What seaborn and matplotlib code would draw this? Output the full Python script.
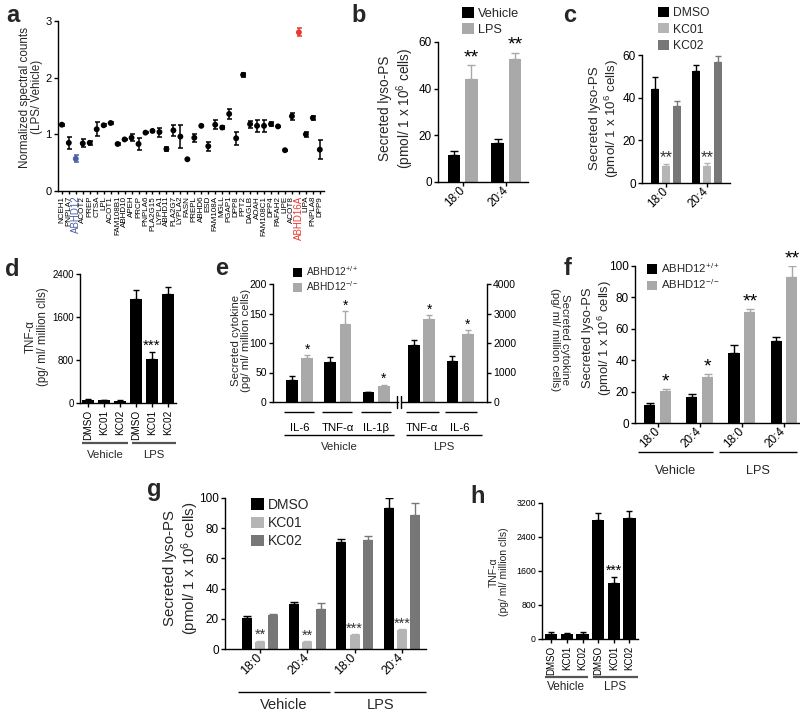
import matplotlib
matplotlib.use("Agg")
import matplotlib.pyplot as plt
import seaborn as sns
import pandas as pd
from matplotlib.patches import Patch
from matplotlib.lines import Line2D

# ----------------------------------------
# Data
# ----------------------------------------

# a: normalized spectral counts (LPS / vehicle)
genes = ["NCEH1", "PNPLA7", "ABHD12", "ACOT2", "PREP", "CTSA", "LPL", "ACOT1",
         "FAM108B1", "ABHD10", "APEH", "PRCP", "PNPLA6", "PLA2G15", "LYPLA1",
         "ABHD11", "PLA2G7", "LYPLA2", "FASN", "PREPL", "ABHD6", "ESD", "FAM108A",
         "MGLL", "PGAP1", "DPP8", "PPT2", "DAGLB", "AOAH", "FAM108C1", "DPP4",
         "PAFAH2", "LIPE", "ACOT8", "ABHD16A", "LIPA", "PNPLA8", "DPP9"]
ratio = [1.17, 0.85, 0.57, 0.84, 0.85, 1.09, 1.16, 1.20, 0.83, 0.91, 0.94, 0.83,
         1.03, 1.06, 1.04, 0.74, 1.07, 0.96, 0.56, 0.94, 1.15, 0.79, 1.17, 1.12,
         1.36, 0.93, 2.05, 1.18, 1.15, 1.15, 1.18, 1.14, 0.72, 1.32, 2.80, 1.00,
         1.29, 0.73]
ratio_err = [0.02, 0.10, 0.06, 0.07, 0.03, 0.12, 0.02, 0.02, 0.01, 0.01, 0.06, 0.10,
             0.01, 0.01, 0.08, 0.03, 0.10, 0.20, 0.01, 0.07, 0.01, 0.08, 0.08, 0.03,
             0.09, 0.12, 0.03, 0.06, 0.10, 0.10, 0.03, 0.01, 0.01, 0.06, 0.07, 0.04,
             0.03, 0.17]

# b: lyso-PS, vehicle vs LPS
lipids = ["18:0", "20:4"]
b_vehicle, b_vehicle_err = [11.7, 16.7], [1.6, 1.9]
b_lps, b_lps_err = [44.3, 52.9], [5.7, 2.6]

# c: lyso-PS with inhibitors
c_dmso, c_dmso_err = [44.0, 52.7], [5.5, 2.5]
c_kc01, c_kc01_err = [8.1, 8.2], [1.0, 1.0]
c_kc02, c_kc02_err = [36.0, 56.9], [2.5, 2.8]

# d: TNF-a with inhibitors
treatments = ["DMSO", "KC01", "KC02"]
d_vehicle, d_vehicle_err = [62, 50, 44], [10, 8, 8]
d_lps, d_lps_err = [1934, 821, 2021], [168, 130, 130]

# e: cytokines, ABHD12 +/+ vs -/-
e_veh_cyto = ["IL-6", "TNF-α", "IL-1β"]
e_veh_wt, e_veh_wt_err = [36.7, 68.4, 16.4], [6.8, 8.0, 1.0]
e_veh_ko, e_veh_ko_err = [74.6, 132.8, 26.6], [4.5, 21.0, 2.8]
e_lps_cyto = ["TNF-α", "IL-6"]
e_lps_wt, e_lps_wt_err = [1932, 1390], [158, 158]
e_lps_ko, e_lps_ko_err = [2814, 2294], [136, 136]

# f: lyso-PS, ABHD12 +/+ vs -/-
conditions = ["Vehicle 18:0", "Vehicle 20:4", "LPS 18:0", "LPS 20:4"]
f_wt, f_wt_err = [11.5, 16.8, 44.3, 52.3], [1.5, 1.5, 5.3, 2.6]
f_ko, f_ko_err = [20.2, 29.6, 70.6, 93.2], [1.5, 1.5, 1.7, 6.8]

# g: lyso-PS with inhibitors, vehicle / LPS
g_dmso, g_dmso_err = [20.3, 29.6, 70.6, 93.2], [1.8, 1.5, 2.0, 6.6]
g_kc01, g_kc01_err = [4.9, 4.6, 9.0, 12.8], [0.6, 0.6, 1.0, 0.5]
g_kc02, g_kc02_err = [22.3, 26.7, 72.4, 89.0], [0.7, 3.8, 2.6, 7.5]

# h: TNF-a with inhibitors
h_vehicle, h_vehicle_err = [126, 118, 126], [30, 30, 50]
h_lps, h_lps_err = [2806, 1324, 2845], [158, 142, 165]

BLACK, LIGHT, DARK = "#000000", "#a9a9a9", "#777777"
KC01_C = "#b5b5b5"
BLUE, RED = "#4a5fa8", "#e8392f"

# ----------------------------------------
# Style
# ----------------------------------------
sns.set_theme(style="ticks")
plt.rcParams["font.family"] = ["Liberation Sans", "DejaVu Sans"]
plt.rcParams["mathtext.default"] = "regular"
plt.rcParams["axes.linewidth"] = 1.0
plt.rcParams["xtick.major.width"] = 1.0
plt.rcParams["ytick.major.width"] = 1.0
plt.rcParams["xtick.major.size"] = 3
plt.rcParams["ytick.major.size"] = 3
plt.rcParams["xtick.major.pad"] = 2
plt.rcParams["ytick.major.pad"] = 1.5
plt.rcParams["axes.edgecolor"] = "black"
plt.rcParams["xtick.color"] = "black"
plt.rcParams["ytick.color"] = "black"

W, H = 800, 715
fig = plt.figure(figsize=(W / 100, H / 100), dpi=100)
BOX = {}


def make_ax(x0, y0, x1, y1):
    ax = fig.add_axes([x0 / W, 1 - y1 / H, (x1 - x0) / W, (y1 - y0) / H])
    BOX[ax] = (x0, y0, x1, y1)
    return ax


def ftext(x, y, s, **kw):
    fig.text(x / W, 1 - y / H, s, **kw)


def ylab(x, y, s, fs, rot=90, ls=1.05):
    ftext(x, y, s, rotation=rot, ha="center", va="center", fontsize=fs,
          multialignment="center", linespacing=ls)


def frame(cats, series):
    rows = []
    for grp, (vals, errs, sigs) in series.items():
        for c, v, e, s in zip(cats, vals, errs, sigs):
            rows.append({"cat": c, "grp": grp, "val": v, "err": e, "sig": s})
    return pd.DataFrame(rows)


def draw_bars(ax, df, palette, width, gap, capsize, star_fs, star_color="black"):
    cats = list(dict.fromkeys(df["cat"]))
    grps = list(dict.fromkeys(df["grp"]))
    sns.barplot(data=df, x="cat", y="val", hue="grp", order=cats, hue_order=grps,
                palette=palette, width=width, gap=gap, errorbar=None,
                saturation=1, linewidth=0, legend=False, ax=ax)
    slots = {}
    for p in ax.patches:
        if p.get_width() <= 0:
            continue
        cx = p.get_x() + p.get_width() / 2
        slots.setdefault(int(round(cx)), []).append(p)
    for i, ps in slots.items():
        for j, p in enumerate(sorted(ps, key=lambda q: q.get_x())):
            row = df[(df["cat"] == cats[i]) & (df["grp"] == grps[j])].iloc[0]
            cx = p.get_x() + p.get_width() / 2
            ax.errorbar(cx, row["val"], yerr=[[0], [row["err"]]], fmt="none",
                        ecolor=p.get_facecolor(), elinewidth=1, capsize=capsize,
                        capthick=1)
            if row["sig"]:
                ax.annotate(row["sig"], (cx, row["val"] + row["err"]),
                            xytext=(0, -1), textcoords="offset points",
                            ha="center", va="bottom", fontsize=star_fs,
                            color=star_color)
    ax.set_xlabel("")
    ax.set_ylabel("")
    sns.despine(ax=ax)


def bracket(ax, x0, x1, ypx, label=None, ylab=None, fs=7, lw=1.0, color="black"):
    bx0, by0, bx1, by1 = BOX[ax]
    ya = (by1 - ypx) / (by1 - by0)
    ax.plot([x0, x1], [ya, ya], transform=ax.get_xaxis_transform(),
            clip_on=False, color=color, lw=lw, solid_capstyle="butt")
    if label:
        yl = (by1 - ylab) / (by1 - by0)
        ax.text((x0 + x1) / 2, yl, label, transform=ax.get_xaxis_transform(),
                ha="center", va="center", fontsize=fs)


def square_legend(ax, labels, colors, x, y, fs, spacing):
    handles = [Patch(facecolor=c, edgecolor="none", label=l) for l, c in zip(labels, colors)]
    ax.legend(handles=handles, loc="upper left", bbox_to_anchor=(x / W, 1 - y / H),
              bbox_transform=fig.transFigure, frameon=False, fontsize=fs,
              handlelength=0.9, handleheight=0.9, handletextpad=0.35,
              labelspacing=spacing, borderpad=0, borderaxespad=0)


def rot45(ax, fs):
    for lbl in ax.get_xticklabels():
        lbl.set_rotation(45)
        lbl.set_ha("right")
        lbl.set_va("center")
        lbl.set_rotation_mode("anchor")
        lbl.set_fontsize(fs)


# ----------------------------------------
# a
# ----------------------------------------
ax = make_ax(58, 21, 324, 191)
kind = ["ABHD12" if g == "ABHD12" else "ABHD16A" if g == "ABHD16A" else "other" for g in genes]
a_df = pd.DataFrame({"gene": genes, "ratio": ratio, "err": ratio_err, "kind": kind})
a_pal = {"other": BLACK, "ABHD12": BLUE, "ABHD16A": RED}
sns.scatterplot(data=a_df, x="gene", y="ratio", hue="kind", palette=a_pal, s=18,
                edgecolor="none", legend=False, ax=ax, zorder=3)
for k, sub in a_df.groupby("kind"):
    ax.errorbar(sub["gene"], sub["ratio"], yerr=sub["err"], fmt="none",
                ecolor=a_pal[k], elinewidth=1.1, capsize=1.8, capthick=1.1)
ax.set_ylim(0, 3)
ax.set_yticks([0, 1, 2, 3])
ax.set_xlim(-0.55, 37.6)
ax.tick_params(axis="y", labelsize=8)
ax.tick_params(axis="x", labelsize=5.8, rotation=90, length=2.5, pad=1)
for lbl in ax.get_xticklabels():
    if lbl.get_text() in a_pal:
        lbl.set_color(a_pal[lbl.get_text()])
        lbl.set_fontsize(7)
ax.set_xlabel("")
ax.set_ylabel("")
sns.despine(ax=ax)
ylab(31, 97, "Normalized spectral counts\n(LPS/ Vehicle)", 8.4, ls=1.1)

# ----------------------------------------
# b
# ----------------------------------------
ax = make_ax(438, 42, 528, 182)
df = frame(lipids, {"Vehicle": (b_vehicle, b_vehicle_err, ["", ""]),
                    "LPS": (b_lps, b_lps_err, ["**", "**"])})
draw_bars(ax, df, [BLACK, LIGHT], 0.8, 0.3, 3, 14)
ax.set_ylim(0, 60)
ax.set_yticks([0, 20, 40, 60])
ax.set_xlim(-0.57, 1.5)
ax.tick_params(axis="y", labelsize=8.5)
rot45(ax, 8.5)
square_legend(ax, ["Vehicle", "LPS"], [BLACK, LIGHT], 462, 7, 9.2, 0.25)
ylab(397, 108, "Secreted lyso-PS\n(pmol/ 1 x 10$^6$ cells)", 9.8, ls=1.15)

# ----------------------------------------
# c
# ----------------------------------------
ax = make_ax(642, 55, 730, 183)
df = frame(lipids, {"DMSO": (c_dmso, c_dmso_err, ["", ""]),
                    "KC01": (c_kc01, c_kc01_err, ["**", "**"]),
                    "KC02": (c_kc02, c_kc02_err, ["", ""])})
draw_bars(ax, df, [BLACK, KC01_C, DARK], 0.8, 0.28, 2.5, 12, "#333333")
ax.set_ylim(0, 60)
ax.set_yticks([0, 20, 40, 60])
ax.set_xlim(-0.59, 1.57)
ax.tick_params(axis="y", labelsize=8.5)
rot45(ax, 8.5)
square_legend(ax, ["DMSO", "KC01", "KC02"], [BLACK, KC01_C, DARK], 658, 7, 8.7, 0.35)
ylab(605, 118, "Secreted lyso-PS\n(pmol/ 1 x 10$^6$ cells)", 9.6, ls=1.15)

# ----------------------------------------
# d
# ----------------------------------------
ax = make_ax(80, 274, 176, 403)
d_cats = ["Vehicle " + t for t in treatments] + ["LPS " + t for t in treatments]
df = frame(d_cats, {"all": (d_vehicle + d_lps, d_vehicle_err + d_lps_err,
                            ["", "", "", "", "***", ""])})
draw_bars(ax, df, [BLACK], 0.7, 0, 2.5, 11)
ax.set_ylim(0, 2400)
ax.set_yticks([0, 800, 1600, 2400])
ax.set_xlim(-0.5, 5.5)
ax.set_xticks(range(6))
ax.set_xticklabels(treatments * 2, rotation=90, fontsize=7.2)
ax.tick_params(axis="y", labelsize=7)
bracket(ax, -0.375, 2.5, 443, "Vehicle", 455, fs=8.2, lw=1.6, color="#555555")
bracket(ax, 2.75, 5.5, 443, "LPS", 455, fs=8.2, lw=1.6, color="#555555")
ylab(37, 337, "TNF-α\n(pg/ ml/ million clls)", 8.3, ls=1.1)

# ----------------------------------------
# e
# ----------------------------------------
ax = make_ax(273, 284, 398, 402)
df = frame(e_veh_cyto, {"WT": (e_veh_wt, e_veh_wt_err, ["", "", ""]),
                        "KO": (e_veh_ko, e_veh_ko_err, ["*", "*", "*"])})
draw_bars(ax, df, [BLACK, LIGHT], 0.8, 0.24, 2.5, 10)
ax.set_ylim(0, 200)
ax.set_yticks([0, 50, 100, 150, 200])
ax.set_xlim(-0.69, 2.57)
ax.tick_params(axis="y", labelsize=7.5)
ax.tick_params(axis="x", labelsize=8.2, length=0, pad=15)
for i in range(3):
    bracket(ax, i - 0.4, i + 0.38, 412)
bracket(ax, -0.4, 2.47, 435, "Vehicle", 447, fs=8.2)
square_legend(ax, ["ABHD12$^{+/+}$", "ABHD12$^{-/-}$"], [BLACK, LIGHT], 293, 264, 7.3, 0.12)
ylab(241, 340, "Secreted cytokine\n(pg/ ml/ million cells)", 8.2, ls=1.0)

ax = make_ax(402, 284, 487, 402)
df = frame(e_lps_cyto, {"WT": (e_lps_wt, e_lps_wt_err, ["", ""]),
                        "KO": (e_lps_ko, e_lps_ko_err, ["*", "*"])})
draw_bars(ax, df, [BLACK, LIGHT], 0.8, 0.24, 2.5, 10)
sns.despine(ax=ax, left=True, right=False)
ax.yaxis.tick_right()
ax.set_ylim(0, 4000)
ax.set_yticks([0, 1000, 2000, 3000, 4000])
ax.set_xlim(-0.51, 1.7)
ax.tick_params(axis="y", labelsize=7.5)
ax.tick_params(axis="x", labelsize=8.2, length=0, pad=15)
for i in range(2):
    bracket(ax, i - 0.4, i + 0.45, 412)
bracket(ax, -0.4, 1.57, 435, "LPS", 447, fs=8.2)
for xb in (397, 401.5):
    fig.add_artist(Line2D([xb / W, xb / W], [1 - 396 / H, 1 - 408 / H],
                          transform=fig.transFigure, color="black", lw=1))
ylab(560, 340, "Secreted cytokine\n(pg/ ml/ million cells)", 8.2, rot=270, ls=1.0)

# ----------------------------------------
# f
# ----------------------------------------
ax = make_ax(635, 266, 800, 423)
df = frame(conditions, {"WT": (f_wt, f_wt_err, ["", "", "", ""]),
                        "KO": (f_ko, f_ko_err, ["*", "*", "**", "**"])})
draw_bars(ax, df, [BLACK, LIGHT], 0.75, 0.3, 3, 14)
ax.set_ylim(0, 100)
ax.set_yticks([0, 20, 40, 60, 80, 100])
ax.set_xlim(-0.54, 3.38)
ax.set_xticks(range(4))
ax.set_xticklabels(lipids * 2)
ax.tick_params(axis="y", labelsize=8.5)
rot45(ax, 8.5)
bracket(ax, -0.47, 1.31, 452, "Vehicle", 471, fs=9.2)
bracket(ax, 1.45, 3.3, 452, "LPS", 471, fs=9.2)
square_legend(ax, ["ABHD12$^{+/+}$", "ABHD12$^{-/-}$"], [BLACK, LIGHT], 647, 261, 8.2, 0.25)
ylab(598, 338, "Secreted lyso-PS\n(pmol/ 1 x 10$^6$ cells)", 9.4, ls=1.15)

# ----------------------------------------
# g
# ----------------------------------------
ax = make_ax(225, 498, 426, 649)
df = frame(conditions, {"DMSO": (g_dmso, g_dmso_err, ["", "", "", ""]),
                        "KC01": (g_kc01, g_kc01_err, ["**", "**", "***", "***"]),
                        "KC02": (g_kc02, g_kc02_err, ["", "", "", ""])})
draw_bars(ax, df, [BLACK, KC01_C, DARK], 0.84, 0.24, 3, 10.5, "#333333")
ax.set_ylim(0, 100)
ax.set_yticks([0, 20, 40, 60, 80, 100])
ax.set_xlim(-0.74, 3.51)
ax.set_xticks(range(4))
ax.set_xticklabels(lipids * 2)
ax.tick_params(axis="y", labelsize=8.5)
rot45(ax, 9)
bracket(ax, -0.47, 1.47, 692, "Vehicle", 705, fs=10.5)
bracket(ax, 1.57, 3.51, 692, "LPS", 705, fs=10.5)
square_legend(ax, ["DMSO", "KC01", "KC02"], [BLACK, KC01_C, DARK], 251, 498, 10, 0.3)
ylab(182, 568, "Secreted lyso-PS\n(pmol/ 1 x 10$^6$ cells)", 10.8, ls=1.15)

# ----------------------------------------
# h
# ----------------------------------------
ax = make_ax(542, 503, 638, 639)
h_cats = ["Vehicle " + t for t in treatments] + ["LPS " + t for t in treatments]
df = frame(h_cats, {"all": (h_vehicle + h_lps, h_vehicle_err + h_lps_err,
                            ["", "", "", "", "***", ""])})
draw_bars(ax, df, [BLACK], 0.78, 0, 2.5, 10)
ax.set_ylim(0, 3200)
ax.set_yticks([0, 800, 1600, 2400, 3200])
ax.set_xlim(-0.6, 5.55)
ax.set_xticks(range(6))
ax.set_xticklabels(treatments * 2, rotation=90, fontsize=7)
ax.tick_params(axis="y", labelsize=6.3)
bracket(ax, -0.4, 2.33, 677, "Vehicle", 687, fs=8.5, lw=1.6, color="#555555")
bracket(ax, 2.67, 5.55, 677, "LPS", 687, fs=8.5, lw=1.6, color="#555555")
ylab(499, 572, "TNF-α\n(pg/ ml/ million clls)", 7.5, ls=1.1)

# ----------------------------------------
# Panel letters
# ----------------------------------------
for letter, x, y in [("a", 6, 22), ("b", 351, 22), ("c", 563, 22), ("d", 5, 276),
                     ("e", 215, 275), ("f", 564, 275), ("g", 147, 496), ("h", 470, 503)]:
    ftext(x, y, letter, fontsize=17, fontweight="bold", va="baseline", ha="left")

fig.savefig("out.png", dpi=100)
